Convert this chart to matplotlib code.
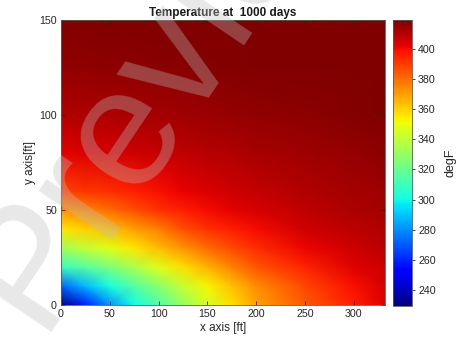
import numpy as np
import matplotlib
matplotlib.use("Agg")
import matplotlib.pyplot as plt
from matplotlib.colors import Normalize

plt.rcParams['font.family'] = ['Liberation Sans', 'DejaVu Sans']

# grid coordinates [ft]
x_ft = [0, 25, 50, 75, 100, 125, 150, 175, 200, 250, 300, 332]
y_ft = [0, 10, 20, 30, 40, 50, 60, 80, 100, 125, 150]

# temperature [degF], one row per y value
temp_y0 = [229.4, 258, 280, 300, 314, 330, 345, 357, 369, 384, 396, 403.5]
temp_y10 = [271, 288, 302, 315, 328, 342, 353, 363, 374, 388, 399, 405]
temp_y20 = [309, 316, 325, 335, 347, 357, 366, 376, 385, 395, 403.5, 406.5]
temp_y30 = [333, 340, 348, 356, 364, 372, 380, 387, 393, 401, 406.5, 409]
temp_y40 = [356, 360, 364, 370, 377, 386, 392, 396, 400, 406, 409.5, 411]
temp_y50 = [372.5, 376, 380, 386, 392, 396, 399.5, 402.5, 405, 408.5, 411.5, 413]
temp_y60 = [389, 391.7, 393, 396, 399, 401.5, 404, 406, 408, 411, 413, 414]
temp_y80 = [402.8, 403.8, 404.9, 406.2, 407.5, 408.8, 410, 411.1, 412, 413.8, 415.5, 416.5]
temp_y100 = [410.8, 411.2, 411.7, 412.3, 412.9, 413.6, 414.2, 414.9, 415.6, 416.9, 418.1, 418.8]
temp_y125 = [415.9, 416.1, 416.4, 416.8, 417.2, 417.6, 418.0, 418.5, 418.9, 419.1, 419.2, 419.25]
temp_y150 = [418.8, 418.9, 419.0, 419.0, 419.1, 419.1, 419.2, 419.2, 419.2, 419.3, 419.3, 419.3]

temp = np.array([temp_y0, temp_y10, temp_y20, temp_y30, temp_y40, temp_y50,
                 temp_y60, temp_y80, temp_y100, temp_y125, temp_y150])

x_ticks = [0, 50, 100, 150, 200, 250, 300]
y_ticks = [0, 50, 100, 150]
cbar_ticks = [240, 260, 280, 300, 320, 340, 360, 380, 400]

text_col = (0.15, 0.15, 0.15)
frame_col = (0.35, 0.35, 0.35)

fig = plt.figure(figsize=(4.6, 3.47), dpi=100)
ax = fig.add_axes([0.1326, 0.121, 0.7044, 0.821])
cax = fig.add_axes([0.854, 0.119, 0.0413, 0.823])

norm = Normalize(vmin=temp.min(), vmax=temp.max())
X, Y = np.meshgrid(x_ft, y_ft)
mesh = ax.pcolormesh(X, Y, temp, cmap='jet', norm=norm, shading='gouraud')
ax.set_xlim(0, 332)
ax.set_ylim(0, 150)
ax.set_xticks(x_ticks)
ax.set_yticks(y_ticks)
ax.tick_params(direction='in', length=3, width=0.6, top=True, right=True,
               labelsize=7.7, colors=text_col, pad=3)
for sp in ax.spines.values():
    sp.set_color(frame_col)
    sp.set_linewidth(0.6)

ax.set_title('Temperature at  1000 days', fontsize=8.5, fontweight='bold',
             color=(0.1, 0.1, 0.1), pad=3)
ax.set_xlabel('x axis [ft]', fontsize=8.5, color=text_col, labelpad=2)
ax.set_ylabel('y axis[ft]', fontsize=8.5, color=text_col, labelpad=2)

cb = fig.colorbar(mesh, cax=cax)
cb.set_ticks(cbar_ticks)
cb.ax.tick_params(direction='out', length=2.5, width=0.6, labelsize=7.7,
                  colors=text_col, pad=2)
cb.outline.set_edgecolor(frame_col)
cb.outline.set_linewidth(0.6)
cb.set_label('degF', fontsize=9, color=text_col, labelpad=6)

# watermark across the figure
fig.text(0.081, 0.045, 'Preview', fontsize=122, rotation=56,
         rotation_mode='anchor', ha='left', va='baseline',
         color=(0.75, 0.75, 0.75), alpha=0.35, zorder=10)

fig.savefig('out.png', dpi=100)
